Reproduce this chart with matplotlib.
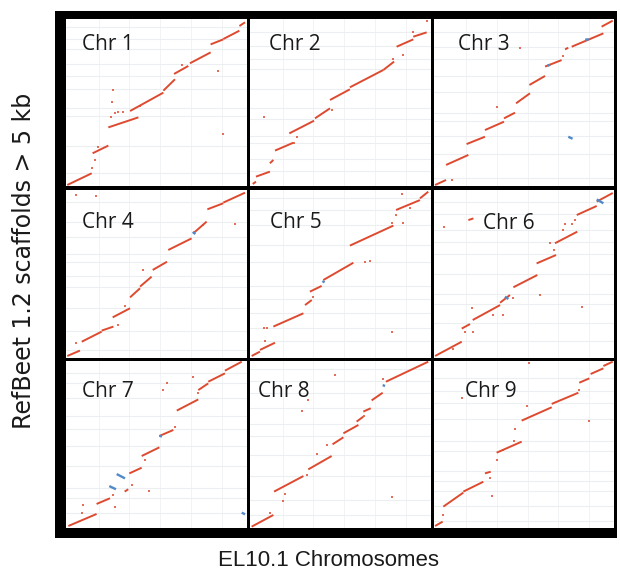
import numpy as np
import matplotlib
matplotlib.use("Agg")
import matplotlib.pyplot as plt

# Dot plot of RefBeet 1.2 scaffolds vs EL10.1 chromosomes
# coordinates are percent of chromosome (x) / percent of scaffold span (y)

chr_names = ["Chr 1", "Chr 2", "Chr 3", "Chr 4", "Chr 5", "Chr 6", "Chr 7", "Chr 8", "Chr 9"]

# forward alignments (x0, y0, x1, y1)
chr1_fwd = [(0.7, 0.6, 14.2, 7.6), (14.7, 19.6, 23.4, 24.2), (23.4, 35.1, 40.0, 41.1),
            (35.4, 44.9, 53.8, 55.9), (53.8, 57.1, 60.2, 63.9), (59.7, 67.1, 67.6, 71.9),
            (68.5, 73.5, 79.9, 80.0), (79.9, 84.8, 86.9, 87.8), (86.9, 88.0, 95.8, 93.0),
            (95.8, 95.8, 98.9, 98.0)]
chr2_fwd = [(1.5, 1.2, 3.3, 2.6), (3.3, 5.6, 11.0, 8.6), (11.0, 13.6, 12.9, 15.6),
            (13.8, 21.2, 23.9, 25.9), (21.7, 31.5, 35.4, 39.1), (35.9, 40.5, 44.2, 46.5),
            (44.2, 51.5, 55.2, 57.9), (55.2, 59.1, 73.7, 69.5), (73.7, 69.5, 79.6, 74.5),
            (81.0, 83.4, 90.2, 87.8), (90.2, 89.4, 97.6, 92.0)]
chr3_fwd = [(0.6, 0.6, 6.7, 3.6), (6.7, 12.6, 19.1, 18.6), (18.1, 25.1, 28.3, 29.5),
            (28.3, 33.5, 38.9, 38.5), (38.9, 40.5, 45.0, 43.9), (45.6, 49.5, 53.3, 55.5),
            (53.0, 60.5, 61.7, 65.9), (61.7, 71.5, 70.9, 75.4), (72.8, 81.8, 74.6, 82.8),
            (76.5, 83.4, 94.1, 91.4), (93.1, 95.4, 99.3, 99.0)]
chr4_fwd = [(0.7, 1.2, 7.7, 4.4), (8.7, 9.7, 19.7, 15.7), (19.7, 16.3, 26.2, 18.7),
            (25.8, 24.2, 35.4, 29.6), (35.4, 36.1, 40.9, 41.5), (40.9, 42.5, 47.3, 48.4),
            (47.9, 52.4, 55.8, 57.3), (56.5, 64.3, 69.4, 71.2), (70.3, 74.2, 77.7, 81.2),
            (78.1, 88.5, 86.9, 92.1), (86.9, 92.5, 98.9, 98.4)]
chr5_fwd = [(0.9, 1.2, 5.5, 3.8), (5.5, 4.8, 13.8, 9.1), (12.9, 18.7, 29.5, 26.6),
            (30.4, 31.5, 34.1, 34.5), (33.1, 39.5, 39.6, 42.9), (40.5, 46.4, 57.1, 56.7),
            (55.2, 66.9, 79.2, 78.8), (80.7, 88.1, 93.9, 94.0), (93.9, 95.0, 98.5, 99.0)]
chr6_fwd = [(0.6, 1.2, 15.4, 9.7), (15.4, 17.5, 20.0, 20.2), (21.5, 22.6, 36.7, 31.5),
            (36.7, 32.9, 42.2, 37.5), (44.1, 42.1, 57.4, 49.4), (57.0, 56.3, 67.8, 61.3),
            (67.2, 68.3, 79.6, 75.2), (79.3, 85.1, 90.4, 90.5), (90.4, 93.1, 99.3, 98.2),
            (19.1, 82.1, 21.9, 83.1)]
chr7_fwd = [(1.3, 1.2, 16.9, 8.4), (16.9, 14.4, 24.3, 17.8), (32.4, 21.8, 34.4, 23.2),
            (35.0, 32.7, 41.8, 36.1), (41.8, 43.1, 51.6, 48.3), (51.6, 55.1, 59.3, 58.7),
            (61.2, 70.3, 73.1, 77.0), (73.1, 82.6, 78.6, 86.6), (78.6, 87.6, 87.8, 92.6),
            (87.8, 94.2, 97.1, 99.6)]
chr8_fwd = [(0.9, 0.8, 12.9, 7.8), (13.3, 21.8, 29.5, 31.1), (32.2, 35.1, 45.1, 43.1),
            (45.6, 50.1, 51.6, 54.3), (51.6, 56.7, 59.9, 61.7), (58.9, 63.7, 62.6, 66.7),
            (62.6, 69.7, 66.7, 71.7), (67.2, 76.4, 73.3, 81.0), (75.1, 87.6, 98.5, 99.6)]
chr9_fwd = [(0.6, 1.2, 4.8, 3.8), (5.2, 12.8, 16.3, 21.2), (16.3, 21.8, 27.4, 27.7),
            (28.3, 32.7, 31.5, 33.7), (34.8, 45.1, 48.7, 51.7), (48.7, 64.3, 65.4, 72.3),
            (65.4, 74.3, 80.2, 81.0), (80.7, 87.0, 86.3, 89.6), (87.0, 92.2, 94.1, 95.6),
            (94.1, 97.0, 99.3, 99.6)]

# short scattered hits (x, y)
chr1_dots = [(14.2, 10.6), (16.0, 15.6), (17.9, 23.6), (26.2, 57.5), (25.2, 50.5), (24.7, 41.5),
             (27.1, 43.5), (28.9, 44.3), (31.7, 44.3), (63.9, 72.5), (84.2, 69.1), (86.6, 31.1),
             (40.9, 47.9)]
chr2_dots = [(7.7, 41.1), (25.8, 29.5), (24.5, 25.9), (45.1, 45.5), (79.2, 75.8), (90.2, 92.4),
             (98.0, 99.0), (84.7, 78.4)]
chr3_dots = [(47.8, 82.4), (34.8, 47.5), (9.8, 3.6), (71.9, 77.8)]
chr4_dots = [(5.5, 97.0), (16.6, 96.4), (93.4, 79.6), (42.7, 52.4), (32.6, 31.0), (28.9, 19.6),
             (5.5, 8.7), (75.9, 79.2)]
chr5_dots = [(7.7, 17.7), (9.2, 17.7), (8.3, 10.3), (63.5, 57.3), (66.3, 57.9), (78.3, 15.7),
             (84.7, 80.2), (78.3, 80.6), (80.7, 85.1), (83.8, 97.6), (88.4, 89.1), (35.0, 36.5)]
chr6_dots = [(5.6, 77.8), (20.9, 29.8), (33.0, 25.4), (38.1, 25.4), (17.2, 15.5), (21.9, 15.5),
             (10.4, 5.2), (82.0, 30.4), (58.9, 37.5), (66.7, 64.3), (71.9, 76.2), (72.8, 79.8),
             (76.5, 79.8), (78.3, 82.2), (64.4, 68.7), (43.7, 35.5)]
chr7_dots = [(9.6, 13.8), (8.7, 8.8), (27.1, 12.8), (46.0, 22.4), (36.3, 25.7), (26.2, 19.8),
             (56.0, 87.0), (53.4, 82.6), (70.3, 90.6), (60.2, 60.7), (43.6, 40.7), (72.7, 80.6)]
chr8_dots = [(47.0, 91.6), (28.5, 69.9), (32.2, 76.8), (42.7, 49.7), (37.2, 44.3), (18.4, 16.2),
             (19.3, 20.4), (11.0, 9.2), (78.3, 18.8), (73.7, 89.4), (31.7, 31.7), (63.0, 67.1)]
chr9_dots = [(4.8, 7.8), (32.0, 19.2), (34.8, 40.7), (45.0, 59.5), (51.5, 73.1), (86.3, 64.3),
             (15.4, 77.6), (53.0, 99.0), (44.4, 52.3), (80.7, 82.6), (31.1, 29.7), (38.5, 46.7)]

# reverse alignments (x0, y0, x1, y1)
chr1_rev = []
chr2_rev = []
chr3_rev = [(74.6, 29.5, 77.0, 28.3), (84.0, 87.6, 86.0, 87.9), (63.0, 72.0, 64.5, 72.6)]
chr4_rev = [(70.0, 75.0, 71.5, 73.8)]
chr5_rev = [(40.0, 45.8, 41.2, 45.0)]
chr6_rev = [(90.4, 94.4, 94.1, 92.1), (39.4, 36.5, 41.3, 35.1)]
chr7_rev = [(28.0, 32.3, 32.6, 29.7), (23.9, 25.1, 27.6, 23.2), (97.1, 9.2, 98.9, 8.2),
            (51.6, 55.3, 53.0, 54.7)]
chr8_rev = [(73.3, 85.6, 74.6, 85.0)]
chr9_rev = []

# scaffold boundaries (faint horizontal lines), percent of y span
chr1_hl = [8, 24, 42, 47, 58, 66, 73, 82, 88, 95]
chr2_hl = [9, 16, 26, 30, 40, 47, 58, 70, 76, 84, 92]
chr3_hl = [5, 19, 30, 39, 44, 56, 66, 76, 83, 92]
chr4_hl = [5, 16, 30, 42, 49, 57, 62, 72, 81, 93]
chr5_hl = [10, 18, 27, 35, 43, 57, 67, 79, 88, 95]
chr6_hl = [10, 21, 32, 38, 50, 62, 69, 76, 86, 93]
chr7_hl = [9, 18, 24, 37, 49, 59, 67, 78, 87, 93]
chr8_hl = [8, 17, 31, 44, 55, 62, 72, 81, 88, 95]
chr9_hl = [4, 13, 22, 28, 34, 46, 52, 65, 75, 82, 90]
xgrid = [18, 35, 52, 69, 86]

fwd = [chr1_fwd, chr2_fwd, chr3_fwd, chr4_fwd, chr5_fwd, chr6_fwd, chr7_fwd, chr8_fwd, chr9_fwd]
dots = [chr1_dots, chr2_dots, chr3_dots, chr4_dots, chr5_dots, chr6_dots, chr7_dots, chr8_dots, chr9_dots]
rev = [chr1_rev, chr2_rev, chr3_rev, chr4_rev, chr5_rev, chr6_rev, chr7_rev, chr8_rev, chr9_rev]
hlines = [chr1_hl, chr2_hl, chr3_hl, chr4_hl, chr5_hl, chr6_hl, chr7_hl, chr8_hl, chr9_hl]

# label position inside each panel (pixels from panel left, baseline from panel top)
label_pos = [(16, 31), (19, 31), (24, 31), (16, 38), (20, 38), (49, 39), (16, 36), (8, 36), (31, 36)]

RED = "#de4a2f"
BLUE = "#5289c9"

W, H = 620, 573
fig = plt.figure(figsize=(W / 100, H / 100), dpi=100)
fig.patch.set_facecolor("white")

# thick black frame behind the panels
frame = fig.add_axes([55 / W, 1 - 538 / H, (617 - 55) / W, (538 - 11) / H], zorder=-5)
frame.set_facecolor("black")
frame.set_xticks([])
frame.set_yticks([])
for s in frame.spines.values():
    s.set_visible(False)

cols = [(66, 247), (250, 431), (434, 614)]
rows = [(19, 186), (190, 358), (361, 528)]


def px_axes(x0, x1, y0, y1):
    return fig.add_axes([x0 / W, 1 - y1 / H, (x1 - x0) / W, (y1 - y0) / H])


for i, name in enumerate(chr_names):
    r, c = divmod(i, 3)
    x0, x1 = cols[c]
    y0, y1 = rows[r]
    ax = px_axes(x0, x1, y0, y1)
    ax.set_xlim(0, 100)
    ax.set_ylim(0, 100)
    ax.set_xticks([])
    ax.set_yticks([])
    for s in ax.spines.values():
        s.set_visible(False)
    ax.set_facecolor("white")

    for gx in xgrid:
        ax.axvline(gx, color="#eff1f4", lw=0.6, zorder=0)
    for gy in hlines[i]:
        ax.axhline(gy, color="#eceef1", lw=0.8, zorder=0)

    for (a, b, cc, d) in fwd[i]:
        ax.plot([a, cc], [b, d], color=RED, lw=1.4, solid_capstyle="butt", zorder=3)
    for (a, b, cc, d) in rev[i]:
        ax.plot([a, cc], [b, d], color=BLUE, lw=1.7, solid_capstyle="butt", zorder=4)
    if dots[i]:
        dx, dy = zip(*dots[i])
        ax.plot(dx, dy, "s", color=RED, ms=1.5, mew=0, alpha=0.8, zorder=3)

    lx, ly = label_pos[i]
    ax.text(lx / (x1 - x0), 1 - ly / (y1 - y0), name, transform=ax.transAxes,
            fontsize=15, family="Open Sans", color="#1a1a1a", va="baseline", ha="left")

fig.text(328 / W, 1 - 560 / H, "EL10.1 Chromosomes", ha="center", va="center",
         fontsize=16, family="Liberation Sans", color="#1a1a1a")
fig.text(24 / W, 1 - 261 / H, "RefBeet 1.2 scaffolds > 5 kb", ha="center", va="center",
         rotation=90, fontsize=17, family="DejaVu Sans", color="#1a1a1a")

fig.savefig("out.png", dpi=100)
